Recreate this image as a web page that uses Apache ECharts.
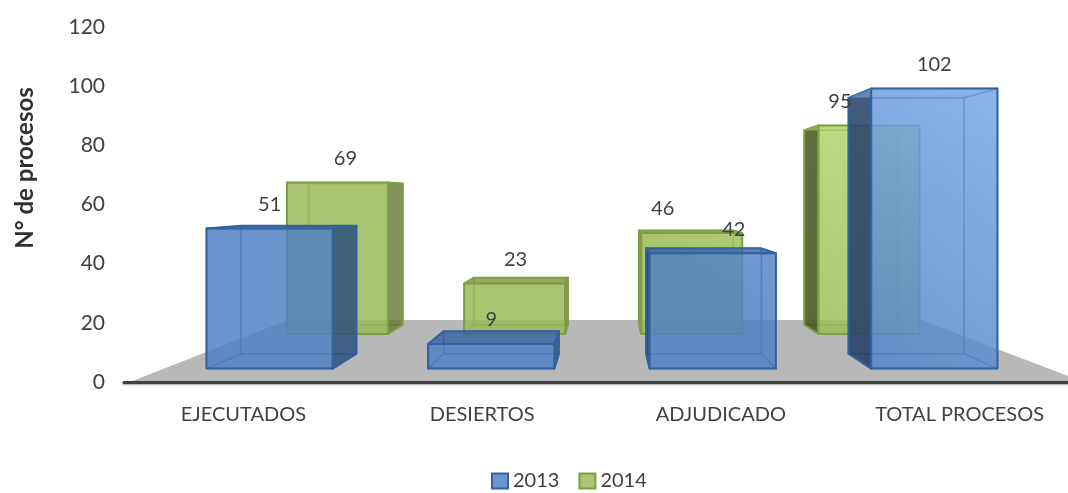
<!DOCTYPE html>
<html>
<head>
<meta charset="utf-8">
<style>
  html, body { margin: 0; padding: 0; background: #fff; }
  #chart { width: 1068px; height: 493px; }
</style>
<script src="https://cdn.jsdelivr.net/npm/echarts@6/dist/echarts.min.js"></script>
</head>
<body>
<div id="chart"></div>
<script>
var categories = ['EJECUTADOS', 'DESIERTOS', 'ADJUDICADO', 'TOTAL PROCESOS'];
var values2013 = [51, 9, 42, 102];
var values2014 = [69, 23, 46, 95];

// label nudges, px from the centre of the front face
var shift2013 = [0, 0, 21, 0];
var shift2014 = [8, 1, -29, -29];

// fake perspective: everything shrinks towards this point
var eyeX = 608, eyeY = 196;
var floorBack = 0.667;
var barShare = 0.57;
var font = 'Lato, "Noto Sans", sans-serif';

function project(x, y, d) {
  return [eyeX + d * (x - eyeX), eyeY + d * (y - eyeY)];
}

function lit(base, bright) {
  return {
    type: 'linear', global: true, x: 985, y: 80, x2: 790, y2: 340,
    colorStops: [{ offset: 0, color: bright }, { offset: 1, color: base }]
  };
}

var blue = {
  front: lit('rgba(78,128,194,0.6)', 'rgba(119,166,230,0.6)'),
  outerLeft: 'rgba(28,50,85,0.72)', outerRight: 'rgba(30,60,95,0.6)', outerTop: 'rgba(40,80,140,0.5)',
  edge: '#32629f', inner: 'rgba(62,112,180,0.55)',
  near: 0.928, far: 0.848
};
var green = {
  front: lit('rgba(153,186,86,0.6)', 'rgba(192,225,120,0.6)'),
  outerLeft: 'rgba(60,70,25,0.75)', outerRight: 'rgba(75,90,40,0.55)', outerTop: 'rgba(90,120,40,0.45)',
  edge: '#7f9f45', inner: 'rgba(125,160,70,0.55)',
  near: 0.742, far: 0.692
};

function face(points, fill, stroke, width) {
  return {
    type: 'polygon',
    shape: { points: points },
    style: { fill: fill, stroke: stroke, lineWidth: width, lineJoin: 'round' }
  };
}

function boxItem(look) {
  return function (params, api) {
    var base = api.coord([api.value(0), 0]);
    var top = api.coord([api.value(0), api.value(1)]);
    var half = api.size([1, 0])[0] * barShare / 2;
    var l = base[0] - half, r = base[0] + half;

    var fbl = project(l, base[1], look.near), fbr = project(r, base[1], look.near);
    var ftl = project(l, top[1], look.near), ftr = project(r, top[1], look.near);
    var bbl = project(l, base[1], look.far), bbr = project(r, base[1], look.far);
    var btl = project(l, top[1], look.far), btr = project(r, top[1], look.far);

    var leftOut = btl[0] < ftl[0];
    var rightOut = btr[0] > ftr[0];
    var topOut = btl[1] < ftl[1];

    return {
      type: 'group',
      children: [
        face([btl, btr, bbr, bbl], look.front, look.inner, 1.5),
        face([fbl, fbr, bbr, bbl], look.front, look.inner, 1.5),
        face([ftl, btl, bbl, fbl], leftOut ? look.outerLeft : look.front, leftOut ? look.edge : look.inner, leftOut ? 2 : 1.5),
        face([ftr, btr, bbr, fbr], rightOut ? look.outerRight : look.front, rightOut ? look.edge : look.inner, rightOut ? 2 : 1.5),
        face([ftl, ftr, btr, btl], topOut ? look.outerTop : look.front, topOut ? look.edge : look.inner, topOut ? 2 : 1.5),
        face([ftl, ftr, fbr, fbl], look.front, look.edge, 2)
      ]
    };
  };
}

function labelItem(look, shifts) {
  return function (params, api) {
    var top = api.coord([api.value(0), api.value(1)]);
    var p = project(top[0], top[1], look.near);
    return {
      type: 'text',
      x: p[0] + shifts[params.dataIndex],
      y: p[1] - 24,
      style: {
        text: String(api.value(1)), fill: '#404040', font: '20px ' + font,
        textAlign: 'center', textVerticalAlign: 'middle'
      }
    };
  };
}

function floorItem(params, api) {
  var grid = params.coordSys;
  var y = api.coord([0, 0])[1];
  var xl = grid.x + 6, xr = grid.x + grid.width + 5;
  return face([
    project(xl, y, 1), project(xr, y, 1),
    project(xr - 6, y, floorBack), project(xl - 2, y, floorBack)
  ], '#b8b8b8', 'none', 0);
}

function pairs(values) {
  return values.map(function (v, i) { return [i, v]; });
}

var chart = echarts.init(document.getElementById('chart'));
chart.setOption({
  animation: false,
  backgroundColor: '#fff',
  grid: { left: 124, top: 27, width: 955, height: 355, outerBoundsMode: 'none' },
  legend: {
    data: ['2013', '2014'], left: 486, top: 466, itemWidth: 16, itemHeight: 15, itemGap: 19, icon: 'rect',
    selectedMode: false,
    textStyle: { color: '#404040', fontSize: 20, fontFamily: font }
  },
  xAxis: {
    type: 'category', data: categories, z: 5,
    axisTick: { show: false },
    axisLine: { lineStyle: { color: '#404040', width: 3, shadowColor: 'rgba(0,0,0,0.35)', shadowBlur: 2, shadowOffsetY: 1 } },
    axisLabel: { color: '#404040', fontSize: 20, fontFamily: font, margin: 23 }
  },
  yAxis: {
    type: 'value', min: 0, max: 120, interval: 20,
    axisLine: { show: false }, axisTick: { show: false }, splitLine: { show: false },
    axisLabel: { color: '#404040', fontSize: 21, fontFamily: font, margin: 19 }
  },
  graphic: [{
    type: 'text', x: 25, y: 168, rotation: Math.PI / 2,
    style: {
      text: 'N° de procesos', fill: '#303030', font: 'bold 24px ' + font,
      textAlign: 'center', textVerticalAlign: 'middle'
    }
  }],
  series: [
    { type: 'custom', z: 1, silent: true, renderItem: floorItem, data: [[0, 0]] },
    {
      type: 'custom', name: '2014', z: 2, silent: true, renderItem: boxItem(green), data: pairs(values2014),
      itemStyle: { color: '#a9c571', borderColor: '#7f9f45', borderWidth: 2 }
    },
    {
      type: 'custom', name: '2013', z: 3, silent: true, renderItem: boxItem(blue), data: pairs(values2013),
      itemStyle: { color: '#6a94cc', borderColor: '#32629f', borderWidth: 2 }
    },
    { type: 'custom', z: 4, silent: true, renderItem: labelItem(green, shift2014), data: pairs(values2014) },
    { type: 'custom', z: 4, silent: true, renderItem: labelItem(blue, shift2013), data: pairs(values2013) }
  ]
});
</script>
</body>
</html>
